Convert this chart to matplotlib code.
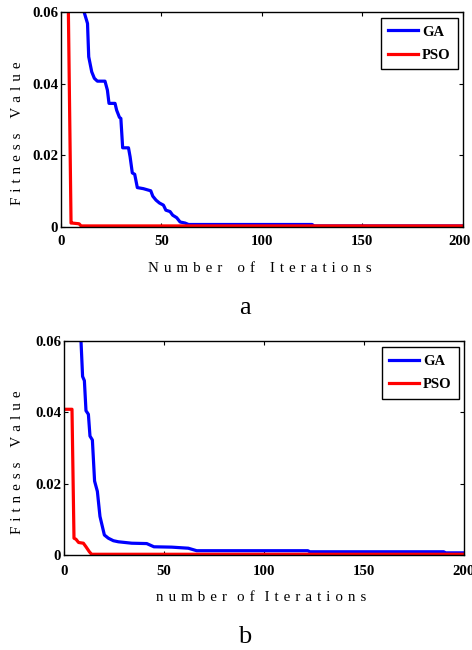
import matplotlib
matplotlib.use("Agg")
import matplotlib.pyplot as plt
from matplotlib.transforms import ScaledTranslation

plt.rcParams['font.family'] = ['Liberation Serif', 'DejaVu Serif']

# curve a
ga_a_x = [10, 11.5, 13.2, 13.8, 15.3, 16.6, 18.1, 21.9, 23.1, 23.9, 26.9, 27.7, 29.1, 29.8,
          30.7, 33.6, 34.4, 35.5, 36.7, 38.0, 41.0, 44.7, 45.7, 47.3, 49.0, 51.0, 52.2, 54.3,
          55.6, 57.6, 59.3, 61.8, 63.5, 125, 126, 200]
ga_a_y = [0.064, 0.060, 0.0568, 0.0475, 0.0433, 0.0415, 0.0407, 0.0407, 0.0382, 0.0345, 0.0345,
          0.0326, 0.0306, 0.0303, 0.0221, 0.0221, 0.0196, 0.0151, 0.0147, 0.011, 0.0107, 0.0101,
          0.0086, 0.0075, 0.0067, 0.0061, 0.0047, 0.0043, 0.0033, 0.0026, 0.0014, 0.0011, 0.0007,
          0.0007, 0.0003, 0.0003]
pso_a_x = [1, 3, 5, 5.5, 9, 10, 200]
pso_a_y = [0.12, 0.09, 0.0011, 0.0011, 0.0009, 0.0003, 0.0003]

# curve b
ga_b_x = [7.5, 8.5, 9.3, 10.2, 11, 12.2, 13, 14.2, 15.3, 16.7, 18, 20.2, 22.2, 24.7, 27.2,
          33.9, 41.4, 45, 53.9, 62.2, 66.4, 122, 123, 190, 191, 200]
ga_b_y = [0.068, 0.060, 0.050, 0.0488, 0.0404, 0.0394, 0.0333, 0.0322, 0.0207, 0.0178, 0.0108,
          0.0056, 0.0047, 0.004, 0.0037, 0.0033, 0.0032, 0.0023, 0.0022, 0.0019, 0.0012, 0.0012,
          0.0009, 0.0009, 0.0006, 0.0006]
pso_b_x = [1, 4, 5, 6, 7.3, 9.7, 11, 12.7, 13.8, 200]
pso_b_y = [0.0408, 0.0408, 0.0047, 0.0044, 0.0035, 0.0033, 0.0023, 0.0009, 0.0002, 0.0002]

xticks = [0, 50, 100, 150, 200]
yticks = [0, 0.02, 0.04, 0.06]
yticklabels = ['0', '0.02', '0.04', '0.06']
legend_names = ['GA', 'PSO']

LETTER = '\u2004'   # three-per-em space, used as letter spacing
WORD = '\u2003'     # em space


def spaced(text, word_gap):
    return word_gap.join(LETTER.join(w) for w in text.split(' '))


W, H = 472, 650
fig = plt.figure(figsize=(W / 100, H / 100), dpi=100)

# axes box in pixels: left, top, right, bottom
panels = [
    ((61, 12, 462.7, 227), ga_a_x, ga_a_y, pso_a_x, pso_a_y,
     spaced('Number of Iterations', WORD), 272, 133, 'a', 314, 0.972, 6, -3),
    ((64, 340.7, 463.7, 555), ga_b_x, ga_b_y, pso_b_x, pso_b_y,
     spaced('number of Iterations', LETTER * 2), 601, 462, 'b', 643, 0.969, 7.5, 0),
]

for box, gx, gy, px, py, xlab, xlab_y, ylab_y, cap, cap_y, ly, xpad, shift in panels:
    l, t, r, b = box
    ax = fig.add_axes([l / W, 1 - b / H, (r - l) / W, (b - t) / H])
    ax.plot(gx, gy, color='#0000ff', lw=2.3, label=legend_names[0])
    ax.plot(px, py, color='#ff0000', lw=2.3, label=legend_names[1])
    ax.set_xlim(0, 200)
    ax.set_ylim(0, 0.06)
    ax.set_xticks(xticks)
    ax.set_xticklabels([str(v) for v in xticks])
    ax.set_yticks(yticks)
    ax.set_yticklabels(yticklabels)
    ax.tick_params(direction='in', top=True, right=True, length=3, width=0.8,
                   labelsize=10.7)
    ax.tick_params(axis='x', pad=xpad)
    ax.tick_params(axis='y', pad=2)
    for lab in ax.get_xticklabels() + ax.get_yticklabels():
        lab.set_fontweight('bold')
    if shift:
        last = ax.get_xticklabels()[-1]
        last.set_transform(last.get_transform() +
                           ScaledTranslation(shift / 100, 0, fig.dpi_scale_trans))
    for sp in ax.spines.values():
        sp.set_linewidth(1.0)

    leg = ax.legend(loc='upper right', bbox_to_anchor=(0.9875, ly), borderaxespad=0,
                    fancybox=False, edgecolor='black', framealpha=1,
                    prop={'weight': 'bold', 'size': 10.5}, handlelength=2.05,
                    handletextpad=0.25, labelspacing=0.7, borderpad=0.5)
    leg.get_frame().set_linewidth(1.0)

    fig.text((l + r) / 2 / W - 0.005, 1 - xlab_y / H, xlab, fontsize=10.8,
             ha='center', va='baseline')
    fig.text(18 / W, 1 - ylab_y / H, spaced('Fitness Value', WORD), fontsize=10.8,
             rotation=90, ha='center', va='center')
    fig.text(245 / W, 1 - cap_y / H, cap, fontsize=19, ha='center', va='baseline')

fig.savefig('out.png', dpi=100)
